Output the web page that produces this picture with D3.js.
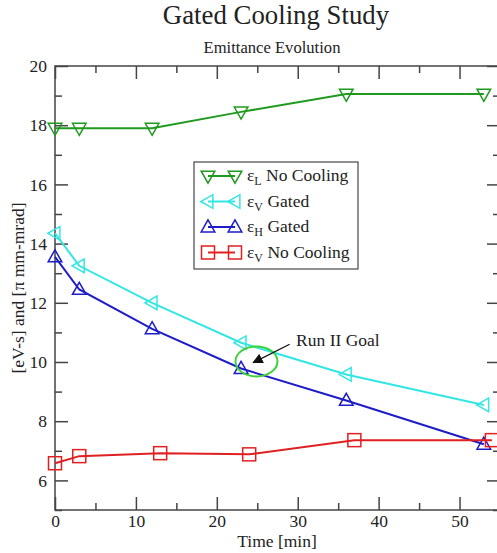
<!DOCTYPE html>
<html>
<head>
<meta charset="utf-8">
<script src="https://cdn.jsdelivr.net/npm/d3@7"></script>
<style>
  body { margin: 0; background: #fff; }
  svg { font-family: "Liberation Serif", "DejaVu Serif", serif; }
  .axis path { display: none; }
  .axis line { stroke: #444; stroke-width: 1.5; }
</style>
</head>
<body>
<div id="chart"></div>
<script>
// ---- data ----
var seriesNames = ["L No Cooling", "V Gated", "H Gated", "V No Cooling"];
var subs = ["L", "V", "H", "V"];
var labels = [" No Cooling", " Gated", " Gated", " No Cooling"];

var timeL = [0, 3, 12, 23, 36, 53];
var emitL = [17.9, 17.9, 17.9, 18.45, 19.05, 19.05];

var timeVg = [0, 3, 12, 23, 36, 53];
var emitVg = [14.35, 13.25, 12.0, 10.65, 9.58, 8.55];

var timeHg = [0, 3, 12, 23, 36, 53];
var emitHg = [13.55, 12.45, 11.12, 9.78, 8.7, 7.22];

var timeVn = [0, 3, 13, 24, 37, 54];
var emitVn = [6.58, 6.82, 6.92, 6.88, 7.36, 7.36];

var xMajor = [0, 10, 20, 30, 40, 50];
var xMinor = [5, 15, 25, 35, 45, 55];
var yMajor = [6, 8, 10, 12, 14, 16, 18, 20];
var yMinor = [5, 7, 9, 11, 13, 15, 17, 19];

var colors = ["#1f9a1f", "#33e6e6", "#1c1cc8", "#e02020"];
var symbols = ["down", "left", "up", "square"];

// ---- svg area ----
var svgWidth = 497, svgHeight = 553;
var margin = { top: 66, right: -3, bottom: 44, left: 55 };
var width = 500 - margin.left;   // right frame sits just past the window edge
var height = 510 - margin.top;

var svg = d3.select("#chart").append("svg")
  .attr("width", svgWidth)
  .attr("height", svgHeight);

var chartGroup = svg.append("g")
  .attr("transform", `translate(${margin.left}, ${margin.top})`);

var x = d3.scaleLinear().domain([0, 55]).range([0, width]);
var y = d3.scaleLinear().domain([5, 20]).range([height, 0]);

// ---- frame and ticks (inward on all sides) ----
function addAxis(axisFn, scale, vals, size, showLabels, tr, pad) {
  var a = axisFn(scale).tickValues(vals).tickSize(-size).tickPadding(pad || 6);
  if (!showLabels) a.tickFormat("");
  chartGroup.append("g").attr("class", "axis").attr("transform", tr).call(a)
    .attr("font-family", "Liberation Serif, serif")
    .attr("font-size", 17.5)
    .selectAll("text").attr("fill", "#222");
}
addAxis(d3.axisBottom, x, xMajor, 13, true, `translate(0, ${height})`, 5);
addAxis(d3.axisBottom, x, xMinor, 7, false, `translate(0, ${height})`);
addAxis(d3.axisTop, x, xMajor, 13, false, "translate(0,0)");
addAxis(d3.axisTop, x, xMinor, 7, false, "translate(0,0)");
addAxis(d3.axisLeft, y, yMajor, 13, true, "translate(0,0)", 8);
addAxis(d3.axisLeft, y, yMinor, 7, false, "translate(0,0)");
addAxis(d3.axisRight, y, yMajor, 13, false, `translate(${width},0)`);
addAxis(d3.axisRight, y, yMinor, 7, false, `translate(${width},0)`);

chartGroup.append("rect")
  .attr("width", width).attr("height", height)
  .attr("fill", "none").attr("stroke", "#444").attr("stroke-width", 1.5);

// ---- markers (hollow) ----
function marker(g, kind, color, s) {
  var p;
  if (kind === "square") {
    g.append("rect").attr("x", -s).attr("y", -s).attr("width", 2 * s).attr("height", 2 * s)
      .attr("fill", "none").attr("stroke", color).attr("stroke-width", 1.5);
    return;
  }
  if (kind === "up") p = [[0, -s * 1.1], [s * 1.05, s * 0.75], [-s * 1.05, s * 0.75]];
  if (kind === "down") p = [[0, s * 1.1], [s * 1.05, -s * 0.75], [-s * 1.05, -s * 0.75]];
  if (kind === "left") p = [[-s * 1.1, 0], [s * 0.75, s * 1.05], [s * 0.75, -s * 1.05]];
  g.append("polygon").attr("points", p.map(function(q) { return q.join(","); }).join(" "))
    .attr("fill", "none").attr("stroke", color).attr("stroke-width", 1.5);
}

var allX = [timeL, timeVg, timeHg, timeVn];
var allY = [emitL, emitVg, emitHg, emitVn];

var line = d3.line().x(d => x(d[0])).y(d => y(d[1]));

allX.forEach(function(xs, i) {
  var pts = xs.map(function(t, j) { return [t, allY[i][j]]; });
  chartGroup.append("path").datum(pts)
    .attr("d", line).attr("fill", "none")
    .attr("stroke", colors[i]).attr("stroke-width", 2);
  pts.forEach(function(d) {
    var g = chartGroup.append("g").attr("transform", `translate(${x(d[0])}, ${y(d[1])})`);
    marker(g, symbols[i], colors[i], 6.5);
  });
});

// ---- Run II goal annotation ----
chartGroup.append("ellipse")
  .attr("cx", x(24.9)).attr("cy", y(10.02))
  .attr("rx", 21).attr("ry", 15)
  .attr("fill", "none").attr("stroke", "#3ad13a").attr("stroke-width", 2);

svg.append("defs").append("marker")
  .attr("id", "arrow").attr("viewBox", "0 0 10 10")
  .attr("refX", 9).attr("refY", 5)
  .attr("markerWidth", 8).attr("markerHeight", 8)
  .attr("orient", "auto")
  .append("path").attr("d", "M0,0 L10,5 L0,10 Z").attr("fill", "#111");

chartGroup.append("line")
  .attr("x1", x(29.0)).attr("y1", y(10.6))
  .attr("x2", x(24.5)).attr("y2", y(9.98))
  .attr("stroke", "#111").attr("stroke-width", 1.3)
  .attr("marker-end", "url(#arrow)");

chartGroup.append("text")
  .attr("x", x(29.8)).attr("y", y(10.55))
  .attr("font-size", 17.5).attr("fill", "#222")
  .text("Run II Goal");

// ---- legend ----
var legend = svg.append("g");
legend.append("rect")
  .attr("x", 194).attr("y", 162).attr("width", 164).attr("height", 107)
  .attr("fill", "#fff").attr("stroke", "#555").attr("stroke-width", 1.3);

seriesNames.forEach(function(name, i) {
  var ly = 176 + i * 25.5;
  legend.append("line").attr("x1", 208).attr("x2", 235).attr("y1", ly).attr("y2", ly)
    .attr("stroke", colors[i]).attr("stroke-width", 2);
  [208, 235].forEach(function(lx) {
    marker(legend.append("g").attr("transform", `translate(${lx}, ${ly})`), symbols[i], colors[i], 6.5);
  });
  var t = legend.append("text").attr("x", 247).attr("y", ly + 5)
    .attr("font-size", 17.5).attr("fill", "#222");
  t.append("tspan").text("\u03b5");
  t.append("tspan").attr("font-size", 12).attr("dy", 4).text(subs[i]);
  t.append("tspan").attr("dy", -4).text(labels[i]);
});

// ---- titles ----
svg.append("text").attr("x", 276).attr("y", 24)
  .attr("text-anchor", "middle").attr("font-size", 26.8).attr("fill", "#222")
  .text("Gated Cooling Study");

svg.append("text").attr("x", 272).attr("y", 53)
  .attr("text-anchor", "middle").attr("font-size", 16.6).attr("fill", "#222")
  .text("Emittance Evolution");

svg.append("text").attr("x", 277).attr("y", 547)
  .attr("text-anchor", "middle").attr("font-size", 17.5).attr("fill", "#222")
  .text("Time [min]");

svg.append("text")
  .attr("transform", "translate(24, 288) rotate(-90)")
  .attr("text-anchor", "middle").attr("font-size", 17.5).attr("fill", "#222")
  .text("[eV-s] and [\u03c0 mm-mrad]");
</script>
</body>
</html>
